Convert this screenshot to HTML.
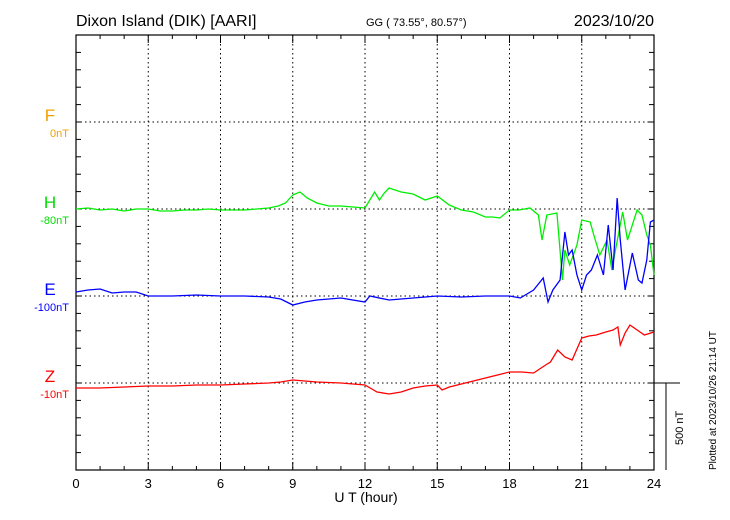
<!DOCTYPE html>
<html><head><meta charset="utf-8"><style>
body{margin:0;background:#fff;}
svg{display:block;font-family:"Liberation Sans",sans-serif;}
</style></head><body>
<svg id="c" width="730" height="520">
<text x="76" y="26" font-size="16">Dixon Island (DIK)  [AARI]</text>
<text x="366" y="26" font-size="11">GG ( 73.55°,  80.57°)</text>
<text x="654" y="26" font-size="16" text-anchor="end">2023/10/20</text>
<text x="366" y="502" font-size="14" text-anchor="middle">U T (hour)</text>
<text transform="translate(716,470) rotate(-90)" font-size="10">Plotted at 2023/10/26 21:14 UT</text>
<g id="g"></g>
</svg>
<script>
const hours=[0,3,6,9,12,15,18,21,24];
const hT=[0,0.5,1,1.5,2,2.5,3,3.5,4,4.5,5,5.5,6,6.5,7,7.5,8,8.4,8.7,9,9.3,9.6,10,10.5,11,11.5,12,12.2,12.4,12.6,12.8,13,13.5,14,14.5,15,15.5,16,16.5,17,17.3,17.6,18,18.4,18.85,19.2,19.35,19.55,19.97,20.2,20.3,20.5,20.8,21,21.35,21.5,21.75,22.05,22.25,22.4,22.7,22.9,23.3,23.5,23.7,23.85,24];
const hY=[209,208,210,209,211,209,209,211,211,210,210,209,210,210,210,209,208,206,203,195,192,198,203,206,206,207,208,200,192,200,193,188,192,194,200,196,205,210,212,217,217,218,210,210,208,215,240,215,213,280,250,265,245,220,222,235,255,240,270,250,212,240,210,215,235,245,275];
const eT=[0,0.5,1,1.5,2,2.5,3,4,5,6,7,8,8.5,9,9.5,10,11,12,12.2,13,14,15,16,17,18,18.45,19,19.4,19.6,19.8,20.1,20.3,20.45,20.6,20.8,21,21.2,21.4,21.65,21.9,22.1,22.3,22.47,22.6,22.8,23.1,23.35,23.5,23.7,23.85,24];
const eY=[292,290,289,293,292,292,296,296,295,296,296,297,299,305,302,300,298,302,296,300,298,296,297,296,296,298,290,278,302,290,280,232,255,250,275,290,275,270,255,275,225,270,198,240,290,253,280,283,260,222,220];
const zT=[0,1,2,3,4,5,6,7,8,8.5,9,9.5,10,11,12,12.5,13,13.5,14,14.5,15,15.2,15.5,16,16.5,17,17.5,18,18.5,19,19.5,19.7,20,20.3,20.6,21,21.3,21.6,22,22.3,22.5,22.6,22.8,23,23.3,23.6,24];
const zY=[388,388,387,386,386,385,385,384,383,382,380,381,382,383,385,392,394,392,388,386,385,390,387,384,381,378,375,372,372,373,365,362,350,357,360,338,336,335,332,330,327,345,333,325,330,335,332];
const X0=76,X1=654,T=35,B=470;
const x=t=>X0+(X1-X0)*t/24;
const g=document.getElementById('g');
const NS='http://www.w3.org/2000/svg';
function mk(tag,a){const e=document.createElementNS(NS,tag);for(const k in a)e.setAttribute(k,a[k]);g.appendChild(e);return e;}
let e;
e=mk('rect',{x:X0,y:T,width:X1-X0,height:B-T,fill:'none',stroke:'#000','stroke-width':1.2});

hours.forEach(h=>{if(h>0&&h<24){e=mk('line',{x1:x(h),x2:x(h),y1:T,y2:B,stroke:'#000','stroke-dasharray':'1.5,3','stroke-width':1});
}
e=mk('text',{x:x(h),y:488,'font-size':13,'text-anchor':'middle'});e.textContent=h;
});
for(let h=0;h<=24;h++){const L=h%3==0?8:4;
mk('line',{x1:x(h),x2:x(h),y1:B,y2:B-L,stroke:'#000'});mk('line',{x1:x(h),x2:x(h),y1:T,y2:T+L,stroke:'#000'});}
[122,209,296,383].forEach(y=>{e=mk('line',{x1:X0,x2:X1,y1:y,y2:y,stroke:'#000','stroke-dasharray':'1.5,3'});
});
for(let y=T;y<=B;y+=17.4){mk('line',{x1:X0,x2:X0+5,y1:y,y2:y,stroke:'#000'});mk('line',{x1:X1,x2:X1-5,y1:y,y2:y,stroke:'#000'});}
mk('line',{x1:X1,x2:680,y1:383,y2:383,stroke:'#000'});
mk('line',{x1:666,x2:666,y1:383,y2:470,stroke:'#000'});
e=mk('text',{transform:'translate(683,445) rotate(-90)','font-size':11});e.textContent='500 nT';

const labs=[['F','0nT','#f0a000',122],['H','-80nT','#00dd00',209],['E','-100nT','#0000ff',296],['Z','-10nT','#ff0000',383]];
labs.forEach(l=>{e=mk('text',{x:50,y:l[3]-1,'font-size':17,fill:l[2],'text-anchor':'middle'});e.textContent=l[0];

e=mk('text',{x:69,y:l[3]+15,'font-size':11,fill:l[2],'text-anchor':'end'});e.textContent=l[1];
});
function line(ts,ys,c,n){e=mk('polyline',{points:ts.map((t,i)=>x(t)+','+ys[i]).join(' '),fill:'none',stroke:c,'stroke-width':1.3});
}
line(hT,hY,'#00ee00','h-series');
line(eT,eY,'#0000ff','e-series');
line(zT,zY,'#ff0000','z-series');
</script>
</body></html>
